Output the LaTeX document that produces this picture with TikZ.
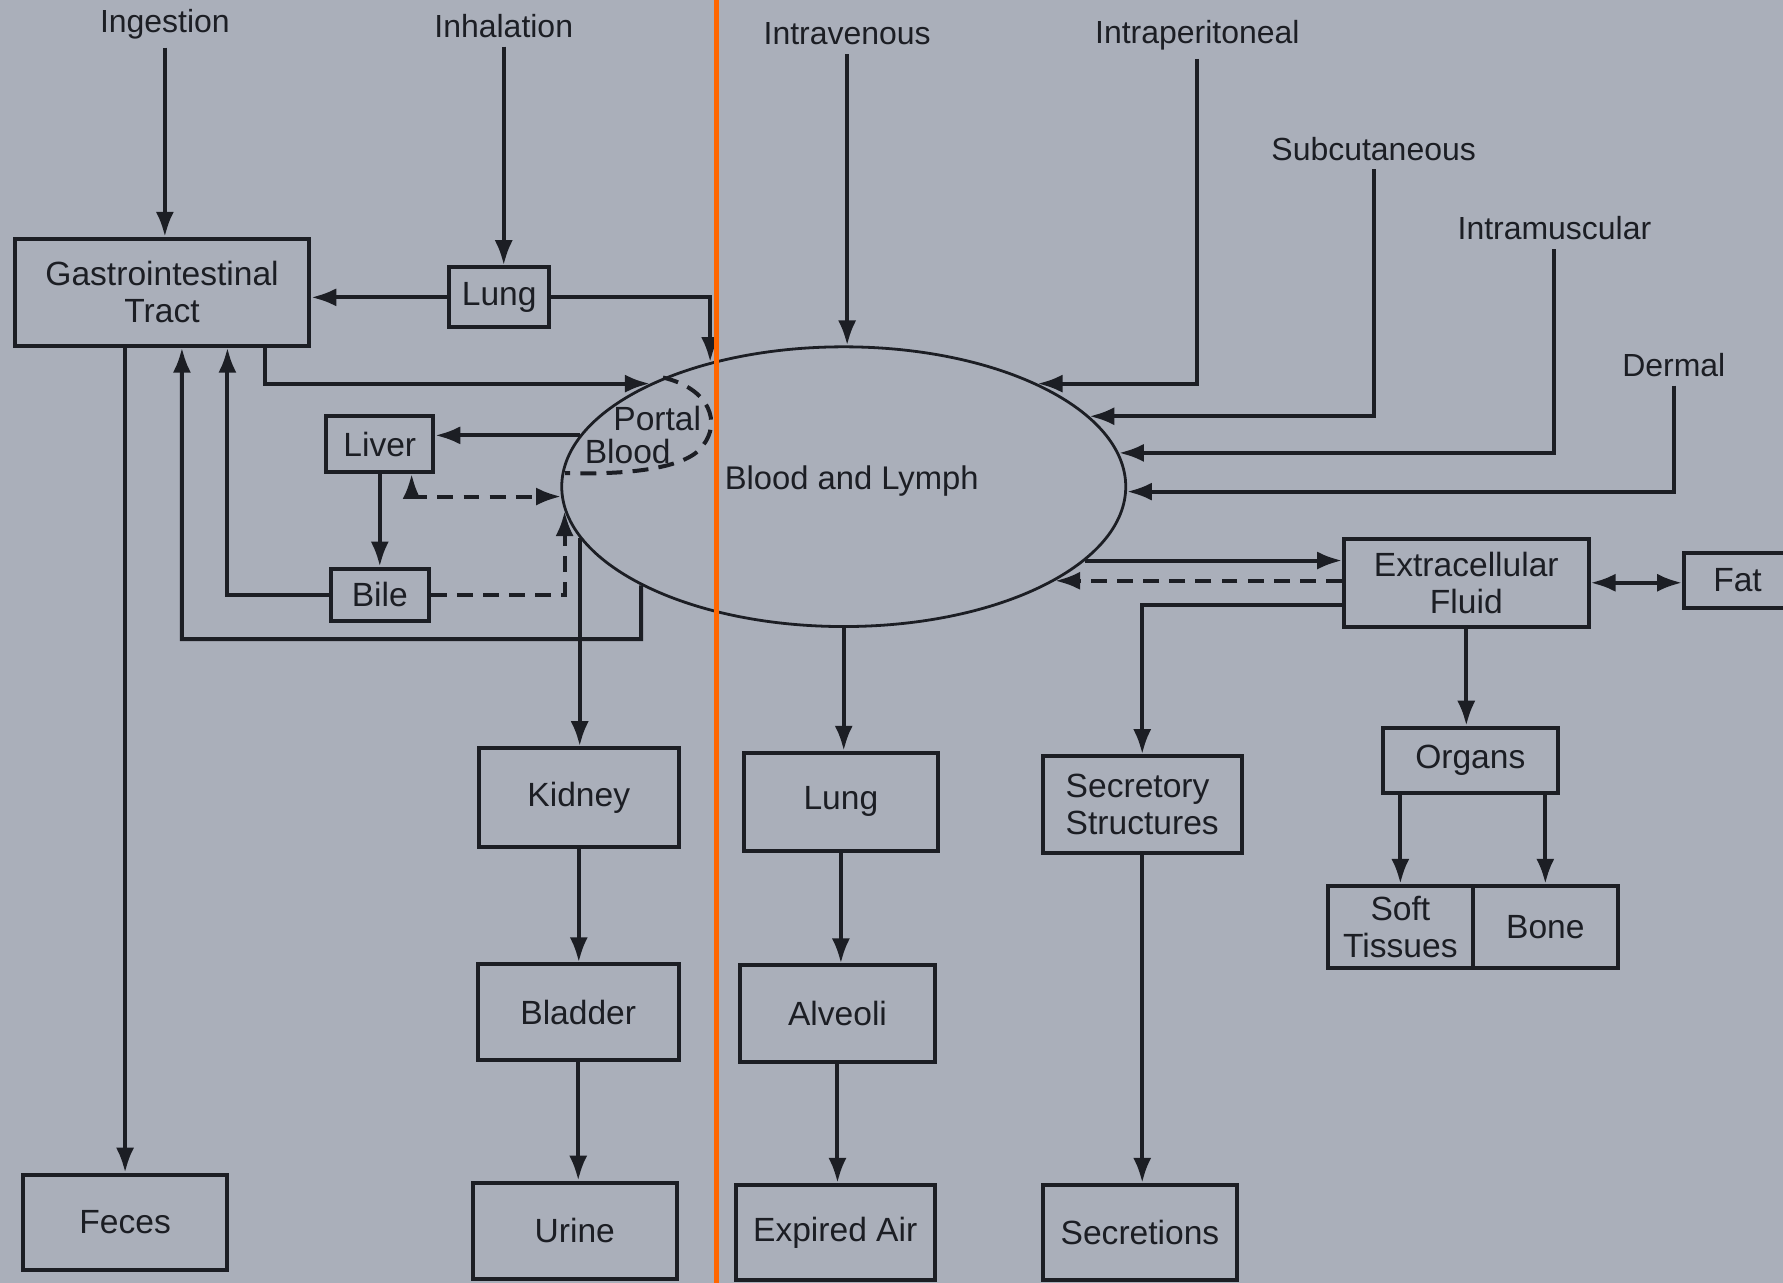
\documentclass[tikz,border=0pt]{standalone}
\usepackage{fontspec}
\setmainfont{Liberation Sans}
\usetikzlibrary{shapes.geometric,arrows.meta}
\definecolor{paper}{RGB}{170,175,186}
\definecolor{ink}{RGB}{28,30,36}
\definecolor{fold}{RGB}{255,102,0}

\begin{document}
\begin{tikzpicture}[x=0.1mm,y=-0.1mm,
  >={Latex[length=2.2mm,width=1.6mm]},
  organbox/.style={draw=ink,line width=1pt,inner sep=1pt,align=center,text=ink,font=\fontsize{8.4}{9.2}\selectfont},
  route/.style={text=ink,inner sep=2pt,font=\fontsize{8}{9}\selectfont},
  flow/.style={->,draw=ink,line width=1pt},
  flowdash/.style={flow,dash pattern=on 1.4mm off 0.9mm}]

\useasboundingbox (0,0) rectangle (1568,1128);
\fill[paper] (0,0) rectangle (1568,1128);

% routes of entry:
\node[route] (ingestion) at (145,21) {Ingestion};
\node[route] (inhalation) at (443,23) {Inhalation};
\node[route] (intrav) at (745,30) {Intravenous};
\node[route] (intraperit) at (1053,31) {Intraperitoneal};
\node[route] (subcut) at (1208,131) {Subcutaneous};
\node[route] (intramusc) at (1367,201) {Intramuscular};
\node[route] (dermal) at (1472,321) {Dermal};

% blood compartment:
\node[ellipse,draw=ink,line width=.7pt,inner sep=0pt,minimum width=4.96cm,minimum height=2.46cm] (blood) at (742,428) {};
\node[text=ink,inner sep=0pt,font=\fontsize{8.2}{9.2}\selectfont] (lymphtxt) at (749,423) {Blood and Lymph};
\draw[ink,line width=1pt,dash pattern=on 1.4mm off 0.9mm] (583,332) .. controls (625,342) and (634,372) .. (618,392) .. controls (606,410) and (560,418) .. (497,416);
\node[text=ink,inner sep=0pt,font=\fontsize{8.4}{9.2}\selectfont] (portaltxt) at (578,368) {Portal};
\node[text=ink,inner sep=0pt,font=\fontsize{8.4}{9.2}\selectfont] (bloodtxt) at (552,397) {Blood};

% organs:
\node[organbox,minimum width=2.59cm,minimum height=0.94cm] (gi) at (142.5,257) {Gastrointestinal\\Tract};
\node[organbox,minimum width=0.88cm,minimum height=0.53cm] (lungl) at (439,261.5) {Lung};
\node[organbox,minimum width=0.94cm,minimum height=0.49cm] (liver) at (334,390.5) {Liver};
\node[organbox,minimum width=0.86cm,minimum height=0.46cm] (bile) at (334,523) {Bile};
\node[organbox,minimum width=1.76cm,minimum height=0.87cm] (kidney) at (509,701.5) {Kidney};
\node[organbox,minimum width=1.77cm,minimum height=0.84cm] (bladder) at (508.5,890) {Bladder};
\node[organbox,minimum width=1.79cm,minimum height=0.85cm] (urine) at (505.5,1082.5) {Urine};
\node[organbox,minimum width=1.79cm,minimum height=0.84cm] (feces) at (110,1075) {Feces};
\node[organbox,minimum width=1.71cm,minimum height=0.86cm] (lungr) at (739.5,705) {Lung};
\node[organbox,minimum width=1.71cm,minimum height=0.85cm] (alveoli) at (736.5,891.5) {Alveoli};
\node[organbox,minimum width=1.75cm,minimum height=0.84cm] (expired) at (734.5,1084) {Expired Air};
\node[organbox,minimum width=1.75cm,minimum height=0.85cm,align=left] (secretory) at (1004.5,707.5) {Secretory\\Structures};
\node[organbox,minimum width=1.71cm,minimum height=0.84cm] (secretions) at (1002.5,1084) {Secretions};
\node[organbox,minimum width=2.15cm,minimum height=0.77cm] (ecf) at (1289.5,512.5) {Extracellular\\Fluid};
\node[organbox,minimum width=0.94cm,minimum height=0.49cm] (fat) at (1528,510.5) {Fat};
\node[organbox,minimum width=1.54cm,minimum height=0.57cm] (organs) at (1293,668.5) {Organs};
\node[organbox,minimum width=1.27cm,minimum height=0.72cm] (soft) at (1231.5,815) {Soft\\Tissues};
\node[organbox,minimum width=1.28cm,minimum height=0.72cm] (bone) at (1359,815) {Bone};

% absorption:
\draw[flow] (ingestion.south) -- (ingestion.south |- gi.north);
\draw[flow] (inhalation.south) -- (inhalation.south |- lungl.north);
\draw[flow] (intrav.south) -- (intrav.south |- blood.north);
\draw[flow] (intraperit.south) |- (blood.28);
\draw[flow] (subcut.south) |- (blood.16);
\draw[flow] (intramusc.south) |- (blood.7);
\draw[flow] (dermal.south) |- (blood.-1);
\draw[flow] (lungl.west) -- (lungl.west -| gi.east);
\draw[flow] (lungl.east) -| (blood.137);
\draw[flow] ([xshift=0.905cm]gi.south) |- (blood.152);

% liver and bile:
\draw[flow] (blood.169) -- (blood.169 -| liver.east);
\draw[flowdash,<->] ([xshift=0.28cm]liver.south) |- (blood.182);
\draw[flow] (liver) -- (bile);
\draw[flowdash] (bile.east) -| (blood.185);
\draw[flow] (bile.west) -| ([xshift=0.575cm]gi.south);
\draw[flow] (blood.206) |- (160,562) -- ([xshift=0.175cm]gi.south);
\draw[flow] (gi.south -| feces.north) -- (feces.north);

% excretion:
\draw[flow] (blood.191) -- (blood.191 |- kidney.north);
\draw[flow] (kidney.south) -- (kidney.south |- bladder.north);
\draw[flow] (bladder.south) -- (bladder.south |- urine.north);
\draw[flow] (blood.south) -- (blood.south |- lungr.north);
\draw[flow] (lungr.south) -- (lungr.south |- alveoli.north);
\draw[flow] (alveoli.south) -- (alveoli.south |- expired.north);

% distribution:
\draw[flow] (blood.-17) -- (blood.-17 -| ecf.west);
\draw[flowdash] (ecf.west |- blood.-24) -- (blood.-24);
\draw[flow] ([yshift=-0.195cm]ecf.west) -| (secretory.north);
\draw[flow] (secretory.south) -- (secretory.south |- secretions.north);
\draw[flow,<->] (ecf.east) -- (ecf.east -| fat.west);
\draw[flow] (ecf.south) -- (ecf.south |- organs.north);
\draw[flow] (organs.south -| soft.north) -- (soft.north);
\draw[flow] (organs.south -| bone.north) -- (bone.north);

% page fold:
\draw[fold,line width=0.05cm] (630,0) -- (630,1128);

\end{tikzpicture}
\end{document}
